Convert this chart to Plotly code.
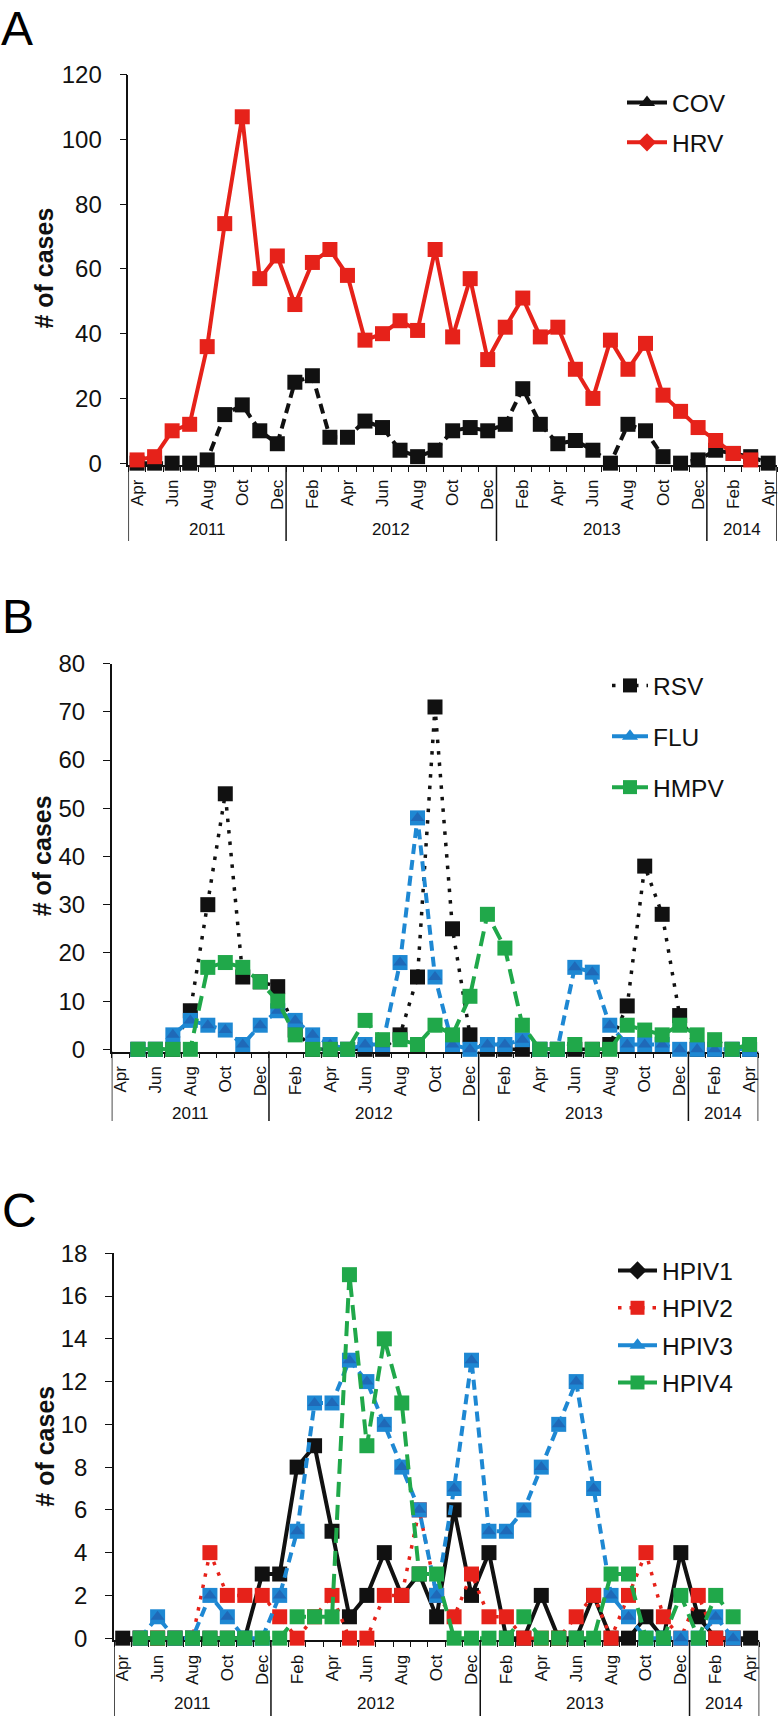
import plotly.graph_objects as go

W, H = 782, 1716
FONT = "Liberation Sans, Arial, Helvetica, sans-serif"
INK = "#111111"

# ---------------- data ----------------
month_labels = ["Apr", "May", "Jun", "Jul", "Aug", "Sep", "Oct", "Nov", "Dec",
                "Jan", "Feb", "Mar", "Apr", "May", "Jun", "Jul", "Aug", "Sep", "Oct", "Nov", "Dec",
                "Jan", "Feb", "Mar", "Apr", "May", "Jun", "Jul", "Aug", "Sep", "Oct", "Nov", "Dec",
                "Jan", "Feb", "Mar", "Apr"]
month_years = [2011] * 9 + [2012] * 12 + [2013] * 12 + [2014] * 4
month_index = list(range(len(month_labels)))

# Panel A
cov = [0, 0, 0, 0, 1, 15, 18, 10, 6,
       25, 27, 8, 8, 13, 11, 4, 2, 4, 10, 11, 10,
       12, 23, 12, 6, 7, 4, 0, 12, 10, 2, 0, 1,
       4, 3, 2, 0]
hrv = [1, 2, 10, 12, 36, 74, 107, 57, 64,
       49, 62, 66, 58, 38, 40, 44, 41, 66, 39, 57, 32,
       42, 51, 39, 42, 29, 20, 38, 29, 37, 21, 16, 11,
       7, 3, 1, None]

# Panel B
rsv = [None, 0, 0, 0, 8, 30, 53, 15, 14,
       13, 4, 0, 0, 0, 0, 0, 3, 15, 71, 25, 3,
       0, 0, 0, 0, 0, 0, 0, 1, 9, 38, 28, 7,
       0, 0, 0, 0]
flu = [None, 0, 0, 3, 6, 5, 4, 1, 5,
       8, 6, 3, 1, 0, 1, 1, 18, 48, 15, 1, 0,
       1, 1, 2, 0, 0, 17, 16, 5, 1, 1, 1, 0,
       0, 0, 0, 0]
hmpv = [None, 0, 0, 0, 0, 17, 18, 17, 14,
        10, 3, 0, 0, 0, 6, 2, 2, 1, 5, 3, 11,
        28, 21, 5, 0, 0, 1, 0, 0, 5, 4, 3, 5,
        3, 2, 0, 1]

# Panel C
hpiv1 = [0, 0, 0, 0, 0, 0, 0, 0, 3,
         3, 8, 9, 5, 1, 2, 4, 2, 3, 1, 6, 2,
         4, 0, 0, 2, 0, 0, 2, 0, 0, 1, 0, 4,
         1, 0, 0, 0]
hpiv2 = [None, 0, 0, 0, 0, 4, 2, 2, 2,
         1, 0, 1, 2, 0, 0, 2, 2, 6, 2, 1, 3,
         1, 1, 0, 0, 0, 1, 2, 0, 2, 4, 1, 0,
         2, 0, 0, None]
hpiv3 = [None, 0, 1, 0, 0, 2, 1, 0, 0,
         2, 5, 11, 11, 13, 12, 10, 8, 6, 2, 7, 13,
         5, 5, 6, 8, 10, 12, 7, 2, 1, 0, 0, 0,
         0, 1, 0, None]
hpiv4 = [None, 0, 0, 0, 0, 0, 0, 0, 0,
         0, 1, 1, 1, 17, 9, 14, 11, 3, 3, 0, 0,
         0, 0, 1, 0, 0, 0, 0, 3, 3, 0, 0, 2,
         0, 2, 1, None]

# ---------------- geometry helpers ----------------
def px_x(px):
    return px / W

def px_y(px):
    return 1 - px / H

RED = "#e6221a"
BLUE = "#1e88d3"
BLUE_DARK = "#1f69b8"
GREEN = "#20a84a"

panels = [
    dict(letter="A", xa="x", ya="y", xpx=(128.3, 777.0), ytop=74.7, ybot=465.1, yr=[-0.6, 120], dt=20,
         year_y=529.5, sep_end=541, lpos=(17, 28), tpos=(44, 268.6), legend="legend",
         lg=dict(x=622, y=80, gap=5, iw=40)),
    dict(letter="B", xa="x2", ya="y2", xpx=(111.7, 758.3), ytop=663.6, ybot=1051.5, yr=[-0.45, 80], dt=10,
         year_y=1113, sep_end=1121, lpos=(18, 617), tpos=(41.7, 855.6), legend="legend2",
         lg=dict(x=607, y=663, gap=16, iw=36)),
    dict(letter="C", xa="x3", ya="y3", xpx=(114.0, 759.3), ytop=1253.3, ybot=1640.3, yr=[-0.1, 18], dt=2,
         year_y=1703, sep_end=1716, lpos=(19, 1210), tpos=(45, 1446.7), legend="legend3",
         lg=dict(x=613, y=1248, gap=2.5, iw=39)),
]

fig = go.Figure()


def add_series(p, name, values, color, dash, width, legend_symbol, legend_dash,
               sq_size=15, overlay=None):
    fig.add_trace(go.Scatter(
        x=month_index, y=values, mode="lines+markers",
        line=dict(color=color, width=width, dash=dash),
        marker=dict(symbol="square", size=sq_size, color=color, line=dict(width=0)),
        xaxis=p["xa"], yaxis=p["ya"], showlegend=False, cliponaxis=False,
        hoverinfo="skip"))
    if overlay:
        fig.add_trace(go.Scatter(
            x=month_index, y=values, mode="markers",
            marker=dict(symbol="triangle-up", size=12, color=overlay, line=dict(width=0)),
            xaxis=p["xa"], yaxis=p["ya"], showlegend=False, cliponaxis=False,
            hoverinfo="skip"))
    fig.add_trace(go.Scatter(
        x=[None], y=[None], mode="lines+markers", name=name,
        line=dict(color=color, width=width, dash=legend_dash),
        marker=dict(symbol=legend_symbol, size=14, color=color, line=dict(width=0)),
        xaxis=p["xa"], yaxis=p["ya"], legend=p["legend"], legendgroup=name))


pA, pB, pC = panels
add_series(pA, "COV", cov, INK, "10px,6px", 4, "triangle-up", "solid")
add_series(pA, "HRV", hrv, RED, "solid", 4, "diamond", "solid")

add_series(pB, "RSV", rsv, INK, "3.5px,8px", 3.5, "square", "3.5px,8px")
add_series(pB, "FLU", flu, BLUE, "10px,6px", 4, "triangle-up", "solid", overlay=BLUE_DARK)
add_series(pB, "HMPV", hmpv, GREEN, "15px,8px", 4, "square", "solid")

add_series(pC, "HPIV1", hpiv1, INK, "solid", 4, "diamond", "solid")
add_series(pC, "HPIV2", hpiv2, RED, "3.5px,8px", 3.5, "square", "3.5px,8px")
add_series(pC, "HPIV3", hpiv3, BLUE, "10px,6px", 4, "triangle-up", "solid", overlay=BLUE_DARK)
add_series(pC, "HPIV4", hpiv4, GREEN, "15px,8px", 4, "square", "solid")

layout = dict(
    width=W, height=H, margin=dict(l=0, r=0, t=0, b=0),
    paper_bgcolor="white", plot_bgcolor="white",
    font=dict(family=FONT, color=INK),
    showlegend=True,
)

shapes = []
annotations = []
tick_vals = month_index[::2]
tick_text = month_labels[::2]

boundaries = [-0.5] + [i - 0.5 for i in range(1, len(month_years)) if month_years[i] != month_years[i - 1]] + [len(month_years) - 0.5]
year_list = []
for yv in month_years:
    if yv not in year_list:
        year_list.append(yv)

for p in panels:
    xkey = "xaxis" + p["xa"][1:]
    ykey = "yaxis" + p["ya"][1:]
    ydom = [px_y(p["ybot"]), px_y(p["ytop"])]
    layout[xkey] = dict(
        domain=[px_x(p["xpx"][0]), px_x(p["xpx"][1])], anchor=p["ya"],
        range=[-0.5, len(month_labels) - 0.5], showgrid=False, zeroline=False,
        showline=True, linecolor=INK, linewidth=1.5,
        tickmode="array", tickvals=tick_vals, ticktext=tick_text, tickangle=-90,
        ticks="", tickfont=dict(size=17, family=FONT, color=INK), ticklabelstandoff=6,
        minor=dict(ticks="outside", tick0=-0.5, dtick=1, ticklen=5, tickwidth=1.2, tickcolor=INK),
        automargin=False, layer="below traces", fixedrange=True)
    layout[ykey] = dict(
        domain=ydom, anchor=p["xa"], range=p["yr"], showgrid=False, zeroline=False,
        showline=True, linecolor=INK, linewidth=1.5,
        tickmode="linear", tick0=0, dtick=p["dt"], ticks="outside", ticklen=7, tickwidth=1.3,
        tickcolor=INK, tickfont=dict(size=24, family=FONT, color=INK), ticklabelstandoff=13,
        automargin=False, layer="below traces", fixedrange=True)

    for b in boundaries:
        shapes.append(dict(type="line", xref=p["xa"], yref="paper", x0=b, x1=b,
                           y0=px_y(p["ybot"]), y1=px_y(p["sep_end"]),
                           line=dict(color=INK, width=1.5)))
    for yv in year_list:
        idx = [i for i, v in enumerate(month_years) if v == yv]
        annotations.append(dict(text=str(yv), xref=p["xa"], yref="paper",
                                x=sum(idx) / len(idx), y=px_y(p["year_y"]),
                                xanchor="center", yanchor="middle", showarrow=False,
                                font=dict(size=17, family=FONT, color=INK)))
    annotations.append(dict(text=p["letter"], xref="paper", yref="paper",
                            x=px_x(p["lpos"][0]), y=px_y(p["lpos"][1]),
                            xanchor="center", yanchor="middle", showarrow=False,
                            font=dict(size=48, family=FONT, color="#000000")))
    annotations.append(dict(text="<b># of cases</b>", xref="paper", yref="paper",
                            x=px_x(p["tpos"][0]), y=px_y(p["tpos"][1]), textangle=-90,
                            xanchor="center", yanchor="middle", showarrow=False,
                            font=dict(size=25, family=FONT, color=INK)))
    lg = p["lg"]
    layout[p["legend"]] = dict(
        x=px_x(lg["x"]), y=px_y(lg["y"]), xanchor="left", yanchor="top",
        bgcolor="rgba(0,0,0,0)", borderwidth=0, itemwidth=lg["iw"],
        tracegroupgap=lg["gap"], font=dict(size=24.5, family=FONT, color=INK),
        itemclick=False, itemdoubleclick=False)

layout["shapes"] = shapes
layout["annotations"] = annotations
fig.update_layout(**layout)

# remove the browser's default page margin so the figure sits at the window origin
fig.write_html("out.html",
               config={"displayModeBar": False},
               post_script="document.body.style.margin='0px';document.body.style.overflow='hidden';")
